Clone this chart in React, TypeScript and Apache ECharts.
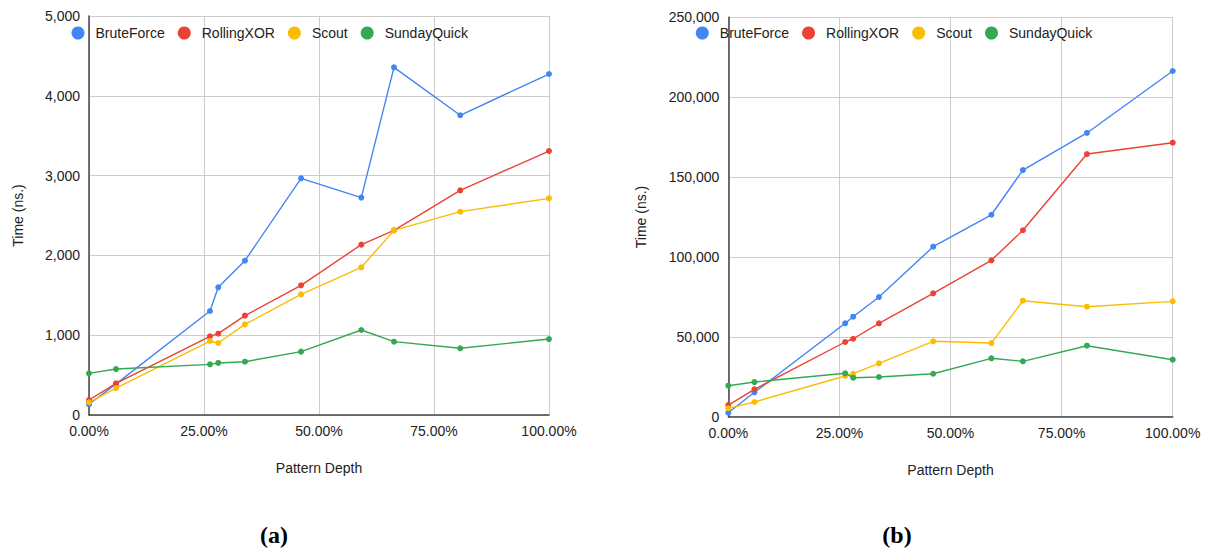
import React, { useEffect, useRef } from "react";
import * as echarts from "echarts";

const depths = [0, 5.88, 26.3, 28.1, 33.9, 46.1, 59.2, 66.3, 80.7, 100];
const seriesNames = ["BruteForce", "RollingXOR", "Scout", "SundayQuick"];
const colors = ["#4285F4", "#EA4335", "#FBBC04", "#34A853"];

// chart (a)
const aBrute = [134, 390, 1303, 1600, 1934, 2966, 2724, 4357, 3756, 4273];
const aRolling = [188, 397, 986, 1019, 1245, 1625, 2135, 2314, 2815, 3308];
const aScout = [159, 338, 927, 902, 1136, 1512, 1851, 2314, 2548, 2715];
const aSunday = [522, 576, 635, 652, 668, 794, 1065, 919, 836, 952];

// chart (b)
const bBrute = [2500, 15270, 58460, 62600, 74900, 106400, 126400, 154400, 177600, 216400];
const bRolling = [7300, 17150, 46760, 48800, 58460, 77240, 97900, 116700, 164400, 171500];
const bScout = [5250, 9200, 25470, 26900, 33400, 47200, 46100, 72600, 68860, 72200];
const bSunday = [19400, 21700, 27160, 24400, 24850, 26900, 36550, 34670, 44440, 35680];

const xTicks = [0, 25, 50, 75, 100];
const panelLabels = ["(a)", "(b)"];
const xAxisName = "Pattern Depth";
const yAxisName = "Time (ns.)";

const FONT = "Arial, 'Liberation Sans', sans-serif";

export default function App() {
  const ref = useRef<HTMLDivElement>(null);
  useEffect(() => {
    document.body.style.margin = "0";
    const chart = echarts.init(ref.current!, null, { renderer: "svg" });
    const aData = [aBrute, aRolling, aScout, aSunday];
    const bData = [bBrute, bRolling, bScout, bSunday];
    const mk = (vals: number[], i: number, idx: number) => ({
      name: seriesNames[i],
      type: "line",
      xAxisIndex: idx,
      yAxisIndex: idx,
      data: depths.map((d, k) => [d, vals[k]]),
      symbol: "circle",
      symbolSize: 6,
      lineStyle: { width: 1.4, color: colors[i] },
      itemStyle: { color: colors[i] },
      emphasis: { disabled: true },
    });
    const xAxisBase = (idx: number) => ({
      type: "value",
      gridIndex: idx,
      min: xTicks[0],
      max: xTicks[xTicks.length - 1],
      interval: 25,
      name: xAxisName,
      nameLocation: "middle",
      nameGap: 46,
      nameTextStyle: { fontSize: 14, color: "#222", fontFamily: FONT },
      axisLine: { show: true, onZero: false, lineStyle: { color: "#444", width: 1.5 } },
      axisTick: { show: false },
      axisLabel: {
        fontSize: 14,
        color: "#222",
        fontFamily: FONT,
        margin: 9,
        formatter: (v: number) => v.toFixed(2) + "%",
      },
      splitLine: { show: true, lineStyle: { color: "#cccccc", width: 1 } },
    });
    const yAxisBase = (idx: number, max: number, interval: number, gap: number) => ({
      type: "value",
      gridIndex: idx,
      min: 0,
      max,
      interval,
      name: yAxisName,
      nameLocation: "middle",
      nameGap: gap,
      nameTextStyle: { fontSize: 14, color: "#222", fontFamily: FONT },
      axisLine: { show: true, lineStyle: { color: "#444", width: 1.5 } },
      axisTick: { show: false },
      axisLabel: {
        fontSize: 14,
        color: "#222",
        fontFamily: FONT,
        margin: 9,
        formatter: (v: number) => v.toLocaleString("en-US"),
      },
      splitLine: { show: true, lineStyle: { color: "#cccccc", width: 1 } },
    });
    const legendBase = (left: number) => ({
      left,
      top: 21,
      icon: "circle",
      itemWidth: 25,
      itemHeight: 13,
      itemGap: 13,
      selectedMode: false,
      textStyle: { fontSize: 14, color: "#222", fontFamily: FONT },
      data: seriesNames,
    });
    chart.setOption({
      animation: false,
      textStyle: { fontFamily: FONT },
      legend: [legendBase(66.5), legendBase(690.8)],
      grid: [
        { left: 89, top: 16, width: 460, height: 399 },
        { left: 728.3, top: 17.3, width: 444.4, height: 399.4 },
      ],
      xAxis: [xAxisBase(0), xAxisBase(1)],
      yAxis: [yAxisBase(0, 5000, 1000, 64), yAxisBase(1, 250000, 50000, 80)],
      series: [
        ...aData.map((v, i) => mk(v, i, 0)),
        ...bData.map((v, i) => mk(v, i, 1)),
      ],
      graphic: [
        {
          type: "text",
          x: 274,
          y: 535,
          style: {
            text: panelLabels[0],
            font: "bold 24px 'Times New Roman', 'Liberation Serif', serif",
            fill: "#000",
            align: "center",
            verticalAlign: "middle",
          },
        },
        {
          type: "text",
          x: 897,
          y: 535,
          style: {
            text: panelLabels[1],
            font: "bold 24px 'Times New Roman', 'Liberation Serif', serif",
            fill: "#000",
            align: "center",
            verticalAlign: "middle",
          },
        },
      ],
    });
    return () => chart.dispose();
  }, []);
  return <div ref={ref} style={{ width: 1208, height: 550 }} />;
}
